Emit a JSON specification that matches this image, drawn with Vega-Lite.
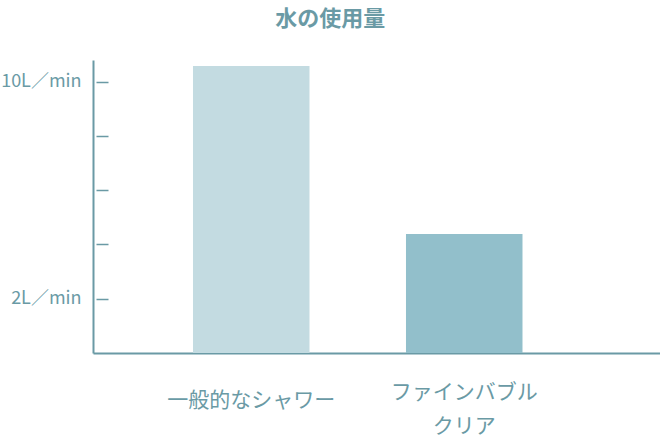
{
  "$schema": "https://vega.github.io/schema/vega-lite/v6.json",
  "width": 567,
  "height": 293,
  "autosize": {"type": "none"},
  "padding": {"left": 93, "top": 60, "right": 0, "bottom": 85},
  "background": "white",
  "title": {
    "text": "水の使用量",
    "font": "Noto Sans CJK JP",
    "fontSize": 22,
    "fontWeight": "bold",
    "color": "#6a9aa5",
    "anchor": "middle",
    "frame": "bounds",
    "offset": 29
  },
  "config": {
    "view": {"stroke": null},
    "font": "Noto Sans CJK JP"
  },
  "data": {
    "values": [
      {"type": "一般的なシャワー", "usage": 10.58},
      {"type": "ファインバブルクリア", "usage": 4.39}
    ]
  },
  "mark": {"type": "bar"},
  "encoding": {
    "x": {
      "field": "type",
      "type": "nominal",
      "sort": null,
      "scale": {"paddingInner": 0.453, "paddingOuter": 0.5575, "align": 0.421},
      "axis": {
        "title": null,
        "labelAngle": 0,
        "ticks": false,
        "domainColor": "#6a9aa5",
        "domainWidth": 2,
        "labelColor": "#6a9aa5",
        "labelFont": "Noto Sans CJK JP",
        "labelFontSize": 21,
        "labelBaseline": "middle",
        "labelLineHeight": 34,
        "labelPadding": {"condition": {"test": "datum.value == 'ファインバブルクリア'", "value": 39}, "value": 47},
        "labelExpr": "datum.value == 'ファインバブルクリア' ? ['ファインバブル', 'クリア'] : datum.value"
      }
    },
    "y": {
      "field": "usage",
      "type": "quantitative",
      "scale": {"domain": [0, 10.8], "nice": false, "zero": true},
      "axis": {
        "title": null,
        "values": [2, 4, 6, 8, 10],
        "grid": false,
        "domainColor": "#6a9aa5",
        "domainWidth": 2,
        "tickColor": "#6a9aa5",
        "tickWidth": 1.5,
        "tickSize": -15,
        "tickDash": [0, 3, 12, 60],
        "labelColor": "#6a9aa5",
        "labelFont": "Noto Sans CJK JP",
        "labelFontSize": 18,
        "labelPadding": 27,
        "labelExpr": "datum.value == 10 ? '10L／min' : datum.value == 2 ? '2L／min' : ''"
      }
    },
    "color": {
      "field": "type",
      "type": "nominal",
      "scale": {"domain": ["一般的なシャワー", "ファインバブルクリア"], "range": ["#c3dbe1", "#92bfcb"]},
      "legend": null
    }
  }
}
